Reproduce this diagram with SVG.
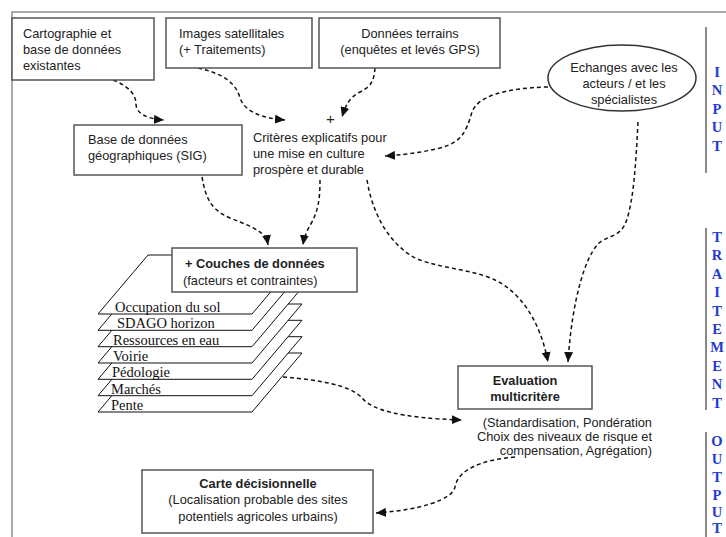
<svg xmlns="http://www.w3.org/2000/svg" width="726" height="537" viewBox="0 0 726 537">
<defs>
<marker id="arr" markerUnits="userSpaceOnUse" markerWidth="11" markerHeight="9" refX="10" refY="4.5" orient="auto">
<path d="M0,0 L10,4.5 L0,9 z" fill="#111"/>
</marker>
<style>
.frame{stroke:#aaaaaa;stroke-width:2;fill:none}
.box{fill:#fff;stroke:#555;stroke-width:1.5}
.t{font-family:"Liberation Sans",Arial,sans-serif;font-size:12.8px;fill:#222}
.b{font-weight:bold}
.c{text-anchor:middle}
.r{text-anchor:end}
.layer{fill:#fff;stroke:#111;stroke-width:1}
.lt{font-family:"Liberation Serif","Times New Roman",serif;font-size:14.5px;fill:#111}
.con{fill:none;stroke:#111;stroke-width:1.5;stroke-dasharray:4 3;marker-end:url(#arr)}
.side{stroke:#888;stroke-width:2}
.st{font-family:"Liberation Serif","Times New Roman",serif;font-size:14.5px;font-weight:bold;fill:#1f3bd1;text-anchor:middle}
</style>
</defs>
<rect width="726" height="537" fill="#fff"/>
<path class="frame" d="M12,537 L12,12 L726,12"/>

<g id="connectors">
<path class="con" d="M113,80 C128,86 136,94 136,104 C136,114 148,119 164,120"/>
<path class="con" d="M198,68 C225,74 236,84 240,98 C245,112 262,118 285,120"/>
<path class="con" d="M375,68 C374,80 372,86 360,92 C350,97 346,104 342,117"/>
<path class="con" d="M548,87 C505,88 478,96 472,112 C466,132 462,142 440,148 C420,153 400,155 385,156"/>
<path class="con" d="M638,122 C636,160 634,200 626,222 C620,238 605,236 598,244 C585,258 572,300 568,362"/>
<path class="con" d="M367,180 C372,210 385,238 410,255 C430,268 470,268 495,280 C520,292 540,320 548,362"/>
<path class="con" d="M202,177 C206,200 212,210 230,218 C255,228 266,232 268,245"/>
<path class="con" d="M320,180 C320,200 318,210 312,222 C306,232 304,238 303,245"/>
<path class="con" d="M283,377 C320,380 350,385 362,398 C372,410 400,418 462,420"/>
<path class="con" d="M515,457 C480,460 458,470 455,487 C452,500 420,510 376,513"/>
</g>

<g id="cartographie">
<rect class="box" x="12" y="18" width="142" height="62"/>
<text class="t" x="23" y="38">Cartographie et</text>
<text class="t" x="23" y="54">base de données</text>
<text class="t" x="23" y="70">existantes</text>
</g>

<g id="images">
<rect class="box" x="166" y="18" width="146" height="50"/>
<text class="t" x="179" y="38">Images satellitales</text>
<text class="t" x="179" y="54">(+ Traitements)</text>
</g>

<g id="terrains">
<rect class="box" x="319" y="18" width="181" height="50"/>
<text class="t c" x="410" y="38">Données terrains</text>
<text class="t c" x="410" y="54">(enquêtes et levés GPS)</text>
</g>

<g id="echanges">
<ellipse cx="622" cy="78" rx="74" ry="33" fill="#fff" stroke="#333" stroke-width="1.5"/>
<text class="t c" x="624" y="72">Echanges avec les</text>
<text class="t c" x="624" y="88">acteurs / et les</text>
<text class="t c" x="624" y="104">spécialistes</text>
</g>

<g id="sig">
<rect class="box" x="74" y="125" width="168" height="50"/>
<text class="t" x="88" y="144">Base de données</text>
<text class="t" x="88" y="160">géographiques (SIG)</text>
</g>

<g id="criteres">
<text class="t" x="326" y="124" style="font-size:15px">+</text>
<text class="t" x="253" y="142">Critères explicatifs pour</text>
<text class="t" x="253" y="158">une mise en culture</text>
<text class="t" x="253" y="174">prospère et durable</text>
</g>

<g id="layers">
<polygon class="layer" points="98,412 252,412 302,353 148,353"/>
<polygon class="layer" points="98,395.7 252,395.7 302,336.7 148,336.7"/>
<polygon class="layer" points="98,379.3 252,379.3 302,320.3 148,320.3"/>
<polygon class="layer" points="98,363 252,363 302,304 148,304"/>
<polygon class="layer" points="98,346.7 252,346.7 302,287.7 148,287.7"/>
<polygon class="layer" points="98,330.3 252,330.3 302,271.3 148,271.3"/>
<polygon class="layer" points="98,314 252,314 302,255 148,255"/>
<text class="lt" x="115" y="312">Occupation du sol</text>
<text class="lt" x="117" y="328.3">SDAGO horizon</text>
<text class="lt" x="113" y="344.7">Ressources en eau</text>
<text class="lt" x="113" y="361">Voirie</text>
<text class="lt" x="112" y="377.3">Pédologie</text>
<text class="lt" x="111" y="393.7">Marchés</text>
<text class="lt" x="111" y="410">Pente</text>
</g>

<g id="couches">
<rect class="box" x="172" y="248" width="185" height="44"/>
<text class="t b" x="185" y="268">+ Couches de données</text>
<text class="t" x="183" y="285">(facteurs et contraintes)</text>
</g>

<g id="evaluation">
<rect class="box" x="458" y="366" width="134" height="43"/>
<text class="t b c" x="525" y="385">Evaluation</text>
<text class="t b c" x="525" y="401">multicritère</text>
<text class="t r" x="652" y="427">(Standardisation, Pondération</text>
<text class="t r" x="652" y="441">Choix des niveaux de risque et</text>
<text class="t r" x="652" y="455">compensation, Agrégation)</text>
</g>

<g id="carte">
<rect class="box" x="142" y="470" width="231" height="63"/>
<text class="t b c" x="258" y="488">Carte décisionnelle</text>
<text class="t c" x="258" y="504">(Localisation probable des sites</text>
<text class="t c" x="258" y="521">potentiels agricoles urbains)</text>
</g>

<g id="input">
<line class="side" x1="706" y1="27" x2="706" y2="173"/>
<text class="st" x="717" y="77">I</text>
<text class="st" x="717" y="95">N</text>
<text class="st" x="717" y="114">P</text>
<text class="st" x="717" y="132">U</text>
<text class="st" x="717" y="151">T</text>
</g>

<g id="traitement">
<line class="side" x1="706" y1="228" x2="706" y2="410"/>
<text class="st" x="717" y="242">T</text>
<text class="st" x="717" y="260">R</text>
<text class="st" x="717" y="279">A</text>
<text class="st" x="717" y="297">I</text>
<text class="st" x="717" y="316">T</text>
<text class="st" x="717" y="334">E</text>
<text class="st" x="717" y="352">M</text>
<text class="st" x="717" y="371">E</text>
<text class="st" x="717" y="389">N</text>
<text class="st" x="717" y="408">T</text>
</g>

<g id="output">
<line class="side" x1="706" y1="432" x2="706" y2="537"/>
<text class="st" x="717" y="446">O</text>
<text class="st" x="717" y="464">U</text>
<text class="st" x="717" y="482">T</text>
<text class="st" x="717" y="500">P</text>
<text class="st" x="717" y="517">U</text>
<text class="st" x="717" y="533">T</text>
</g>
</svg>
